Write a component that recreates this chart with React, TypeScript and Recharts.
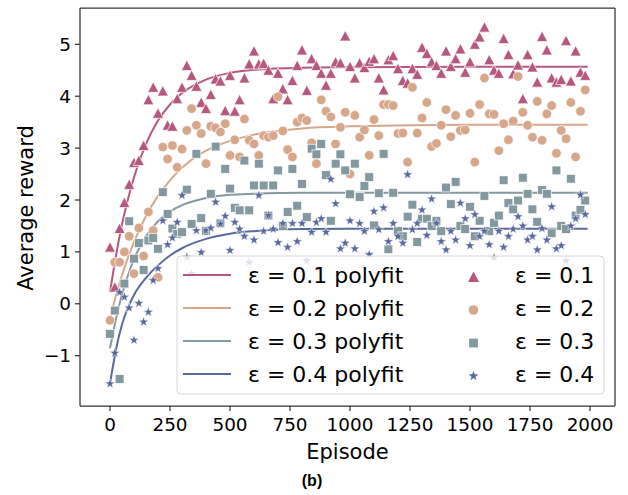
import React from 'react';
import { ComposedChart, Line, Scatter, XAxis, YAxis, ReferenceLine } from 'recharts';

// episodes sampled every 20 steps
const episodes = Array.from({ length: 100 }, (_, i) => i * 20);

const eps01 = [
  1.09, 0.32, 1.45, 1.95, 2.3, 2.72, 2.76, 3.05, 3.93, 4.17,
  3.67, 4.1, 3.44, 3.42, 3.95, 4.17, 4.59, 4.4, 4.19, 3.88,
  3.76, 4.03, 4.33, 4.29, 3.72, 4.4, 3.71, 3.93, 4.35, 4.62,
  4.87, 4.62, 4.63, 4.5, 3.95, 4.44, 4.14, 3.93, 4.3, 4.59,
  4.89, 4.11, 4.72, 4.59, 4.44, 4.21, 4.44, 4.66, 4.64, 5.16,
  4.57, 4.35, 4.64, 4.55, 4.67, 4.72, 4.35, 4.12, 4.7, 4.78,
  4.53, 4.3, 4.25, 4.53, 4.42, 4.94, 4.82, 4.66, 4.59, 4.44,
  4.87, 4.57, 4.72, 4.91, 4.46, 4.66, 5.0, 5.14, 5.33, 4.7,
  4.5, 4.44, 5.11, 4.8, 4.43, 4.6, 3.95, 4.8, 4.56, 4.27,
  5.15, 4.89, 4.35, 4.27, 4.32, 5.07, 4.29, 4.87, 4.46, 4.4,
];
const eps02 = [
  -0.32, 0.8, 0.8, 1.0, 1.3, 0.58, 1.46, 0.92, 1.77, 1.41,
  0.51, 3.02, 2.79, 3.05, 2.63, 2.98, 3.34, 3.76, 3.44, 3.28,
  2.7, 3.42, 3.39, 3.31, 3.47, 2.86, 3.16, 2.83, 3.56, 3.15,
  3.08, 2.86, 3.24, 3.21, 3.24, 3.99, 3.33, 2.97, 2.83, 3.5,
  3.58, 3.53, 3.1, 2.7, 3.93, 3.71, 3.6, 3.08, 3.4, 3.69,
  2.5, 3.63, 3.21, 3.35, 2.86, 3.55, 3.24, 3.84, 3.84, 3.82,
  3.28, 3.29, 2.73, 4.17, 3.29, 3.58, 3.88, 3.03, 3.09, 3.44,
  3.74, 3.22, 3.63, 3.34, 3.35, 3.67, 2.73, 3.84, 4.35, 3.66,
  3.65, 2.95, 3.47, 3.16, 3.52, 4.38, 3.69, 3.44, 3.21, 3.9,
  3.15, 3.66, 3.82, 2.9, 3.34, 3.18, 3.88, 2.83, 3.71, 4.12,
];
const eps03 = [
  -0.58, -0.13, -1.45, 0.39, 1.59, 0.87, 1.17, 0.65, 1.22, 1.27,
  1.06, 2.15, 1.73, 1.45, 1.35, 1.38, 2.2, 1.54, 2.89, 1.65,
  1.4, 2.12, 3.03, 1.55, 2.6, 2.22, 1.85, 1.8, 2.76, 1.8,
  2.28, 2.7, 2.28, 1.7, 2.28, 2.57, 1.5, 1.77, 2.6, 1.89,
  2.31, 1.67, 2.99, 2.88, 3.08, 2.48, 1.6, 2.7, 2.88, 2.57,
  2.11, 2.7, 2.06, 2.27, 2.44, 1.51, 2.13, 2.89, 1.05, 2.14,
  1.4, 1.3, 1.68, 1.91, 1.19, 1.64, 1.64, 1.5, 1.6, 1.4,
  2.24, 1.92, 2.35, 1.5, 1.44, 1.87, 1.3, 1.6, 2.08, 1.4,
  1.56, 1.7, 2.38, 1.94, 1.82, 1.99, 2.43, 2.12, 1.82, 1.58,
  2.19, 2.12, 1.36, 2.57, 1.5, 1.44, 2.41, 1.7, 1.81, 1.99,
];
const eps04 = [
  -1.54, -0.95, 0.22, 0.13, -0.08, -0.7, 0.01, -0.35, -0.16, 0.45,
  0.68, 1.6, 1.14, 1.27, 1.57, 2.09, 0.9, 0.58, 1.41, 0.99,
  1.41, 1.46, 1.96, 1.54, 1.69, 1.03, 1.57, 1.44, 1.3, 0.8,
  1.23, 2.09, 1.4, 1.7, 1.44, 1.18, 1.55, 1.09, 1.55, 1.2,
  1.55, 0.83, 1.38, 1.57, 1.64, 1.38, 2.4, 1.93, 1.06, 1.17,
  1.6, 1.06, 1.55, 1.4, 0.95, 1.78, 1.43, 1.85, 1.2, 1.55,
  1.3, 1.17, 2.49, 1.43, 1.55, 1.81, 1.32, 2.02, 1.55, 1.2,
  1.04, 1.4, 1.23, 1.94, 1.64, 1.12, 1.72, 1.3, 1.4, 1.14,
  0.89, 1.4, 1.09, 1.3, 1.44, 1.68, 1.5, 1.23, 1.3, 1.04,
  1.45, 1.23, 1.87, 1.06, 1.12, 0.83, 1.5, 1.64, 2.1, 1.72,
];

// polyfit curves, sampled off the figure
const fitX = [0, 25, 50, 75, 100, 150, 200, 250, 300, 400, 500, 600, 800, 1000, 1500, 1990];
const fit01 = [0.22, 0.93, 1.53, 2.02, 2.44, 3.08, 3.53, 3.84, 4.06, 4.32, 4.45, 4.51, 4.55, 4.56, 4.57, 4.57];
const fit02 = [-0.28, 0.16, 0.55, 0.89, 1.19, 1.69, 2.08, 2.38, 2.62, 2.95, 3.14, 3.26, 3.38, 3.42, 3.45, 3.45];
const fit03 = [-0.86, -0.29, 0.18, 0.55, 0.86, 1.3, 1.59, 1.78, 1.9, 2.04, 2.1, 2.12, 2.14, 2.14, 2.14, 2.14];
const fit04 = [-1.54, -0.88, -0.4, -0.07, 0.17, 0.5, 0.74, 0.93, 1.07, 1.25, 1.35, 1.4, 1.44, 1.445, 1.445, 1.445];

const xTicks = [0, 250, 500, 750, 1000, 1250, 1500, 1750, 2000];
const yTicks = [-1, 0, 1, 2, 3, 4, 5];

const C1 = '#b5577f';
const C2 = '#d7a78b';
const C3 = '#83999f';
const C4 = '#5b6a9d';

const xDomain = [-125, 2104];
const yDomain = [-1.97, 5.7];
const FONT = 'DejaVu Sans, sans-serif';

const toPts = (ys: number[]) => episodes.map((x, i) => ({ x, y: ys[i] }));
const toFit = (ys: number[]) => fitX.map((x, i) => ({ x, y: ys[i] }));

function Tri({ cx, cy, fill, edge = '#fff' }: any) {
  const r = 5.5;
  return (
    <polygon
      points={`${cx},${cy - r} ${cx - r},${cy + r * 0.9} ${cx + r},${cy + r * 0.9}`}
      fill={fill}
      stroke={edge}
      strokeWidth={0.7}
    />
  );
}

function Dot({ cx, cy, fill, edge = '#fff' }: any) {
  return <circle cx={cx} cy={cy} r={4.8} fill={fill} stroke={edge} strokeWidth={0.7} />;
}

function Sq({ cx, cy, fill, edge = '#fff' }: any) {
  const h = 4.4;
  return <rect x={cx - h} y={cy - h} width={h * 2} height={h * 2} fill={fill} stroke={edge} strokeWidth={0.7} />;
}

function Star({ cx, cy, fill, edge = '#fff' }: any) {
  const pts: string[] = [];
  for (let k = 0; k < 10; k++) {
    const a = (-90 + k * 36) * (Math.PI / 180);
    const r = k % 2 === 0 ? 5.2 : 2.1;
    pts.push(`${cx + r * Math.cos(a)},${cy + r * Math.sin(a)}`);
  }
  return <polygon points={pts.join(' ')} fill={fill} stroke={edge} strokeWidth={0.5} />;
}

const legendRows = [
  { label: '0.1', color: C1, Mark: Tri },
  { label: '0.2', color: C2, Mark: Dot },
  { label: '0.3', color: C3, Mark: Sq },
  { label: '0.4', color: C4, Mark: Star },
];

const axisStyle = { stroke: '#333', strokeWidth: 1.25 };
const tickStyle = { fill: '#000', fontSize: 18.4, fontFamily: FONT };

export default function App() {
  return (
    <div style={{ position: 'absolute', left: 0, top: 0, width: 628, height: 495, background: '#fff' }}>
      <ComposedChart width={628} height={495} margin={{ top: 8, right: 13, bottom: 49, left: 0 }}>
        <XAxis
          dataKey="x"
          type="number"
          domain={xDomain}
          ticks={xTicks}
          interval={0}
          height={40}
          tickSize={5}
          tickMargin={7}
          tick={tickStyle}
          tickLine={axisStyle}
          axisLine={axisStyle}
        />
        <YAxis
          type="number"
          domain={yDomain}
          ticks={yTicks}
          interval={0}
          width={80}
          tickSize={5}
          tickMargin={4}
          tick={tickStyle}
          tickLine={axisStyle}
          axisLine={axisStyle}
          tickFormatter={(v: number) => (v < 0 ? `\u2212${Math.abs(v)}` : `${v}`)}
        />
        {/* top and right spines */}
        <ReferenceLine y={yDomain[1]} stroke="#333" strokeWidth={1.25} />
        <ReferenceLine x={xDomain[1]} stroke="#333" strokeWidth={1.25} />

        <Line data={toFit(fit01)} dataKey="y" type="monotone" stroke={C1} strokeWidth={2} dot={false} isAnimationActive={false} />
        <Line data={toFit(fit02)} dataKey="y" type="monotone" stroke={C2} strokeWidth={2} dot={false} isAnimationActive={false} />
        <Line data={toFit(fit03)} dataKey="y" type="monotone" stroke={C3} strokeWidth={2} dot={false} isAnimationActive={false} />
        <Line data={toFit(fit04)} dataKey="y" type="monotone" stroke={C4} strokeWidth={2} dot={false} isAnimationActive={false} />

        <Scatter data={toPts(eps01)} dataKey="y" isAnimationActive={false} shape={(p: any) => <Tri cx={p.cx} cy={p.cy} fill={C1} />} />
        <Scatter data={toPts(eps02)} dataKey="y" isAnimationActive={false} shape={(p: any) => <Dot cx={p.cx} cy={p.cy} fill={C2} />} />
        <Scatter data={toPts(eps03)} dataKey="y" isAnimationActive={false} shape={(p: any) => <Sq cx={p.cx} cy={p.cy} fill={C3} />} />
        <Scatter data={toPts(eps04)} dataKey="y" isAnimationActive={false} shape={(p: any) => <Star cx={p.cx} cy={p.cy} fill={C4} />} />
      </ComposedChart>

      <svg width={628} height={495} style={{ position: 'absolute', left: 0, top: 0, pointerEvents: 'none' }}>
        <text transform="translate(33,208) rotate(-90)" textAnchor="middle" fontFamily={FONT} fontSize={21} fill="#000">
          Average reward
        </text>
        <text x={347.5} y={458.5} textAnchor="middle" fontFamily={FONT} fontSize={21} fill="#000">
          Episode
        </text>
        <text x={312} y={486} textAnchor="middle" fontFamily="Liberation Sans, Arial, sans-serif" fontWeight="bold" fontSize={16} fill="#000">
          (b)
        </text>

        <rect x={177} y={256} width={427} height={138} rx={4} fill="#fff" fillOpacity={0.8} stroke="#d6d6d6" strokeWidth={1} />
        {legendRows.map((r, i) => {
          const cy = 275 + i * 33;
          const Mark = r.Mark;
          return (
            <g key={r.label}>
              <line x1={183} x2={231} y1={cy} y2={cy} stroke={r.color} strokeWidth={2} />
              <text x={248} y={cy + 7.5} fontFamily={FONT} fontSize={22} fill="#000">
                {`\u03b5 = ${r.label} polyfit`}
              </text>
              <Mark cx={473.5} cy={cy + 2} fill={r.color} edge="none" />
              <text x={515} y={cy + 7.5} fontFamily={FONT} fontSize={22} fill="#000">
                {`\u03b5 = ${r.label}`}
              </text>
            </g>
          );
        })}
      </svg>
    </div>
  );
}
